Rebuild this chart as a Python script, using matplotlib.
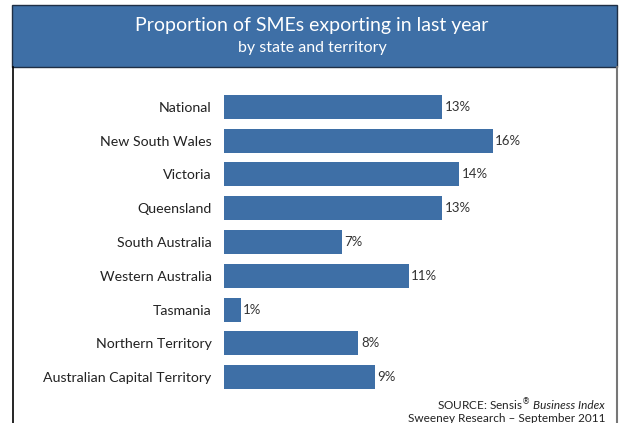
import matplotlib
matplotlib.use("Agg")
import matplotlib.pyplot as plt
from matplotlib.patches import Rectangle
from matplotlib.lines import Line2D

categories = ["National", "New South Wales", "Victoria", "Queensland",
              "South Australia", "Western Australia", "Tasmania",
              "Northern Territory", "Australian Capital Territory"]
values = [13, 16, 14, 13, 7, 11, 1, 8, 9]
value_labels = ["13%", "16%", "14%", "13%", "7%", "11%", "1%", "8%", "9%"]

title_line1 = "Proportion of SMEs exporting in last year"
title_line2 = "by state and territory"
source_line1 = "SOURCE: Sensis$^{\\circledR}$ "
source_italic = "Business Index"
source_line2 = "Sweeney Research \u2013 September 2011"

BLUE = "#3E6FA6"
FONT = "Lato"
plt.rcParams["font.family"] = [FONT, "DejaVu Sans"]

W, H = 619, 423
fig = plt.figure(figsize=(W / 100, H / 100), dpi=100)
fig.patch.set_facecolor("white")


def fx(px):
    return px / W


def fy(py):
    return 1 - py / H


# header band
fig.add_artist(Rectangle((fx(12), fy(67)), fx(617) - fx(12), fy(5) - fy(67),
                         transform=fig.transFigure, facecolor=BLUE,
                         edgecolor="#1f2f45", linewidth=1.0, zorder=1))
fig.text(fx(312), fy(26), title_line1, ha="center", va="center",
         color="white", fontsize=14, zorder=2)
fig.text(fx(312), fy(48), title_line2, ha="center", va="center",
         color="white", fontsize=11.5, zorder=2)

# frame sides
fig.add_artist(Line2D([fx(12.5), fx(12.5)], [fy(67), 0], transform=fig.transFigure,
                      color="black", linewidth=1.2))
fig.add_artist(Line2D([fx(617), fx(617)], [fy(67), 0], transform=fig.transFigure,
                      color="#777777", linewidth=1.5))

# bar chart
ax = fig.add_axes([fx(224), fy(394), fx(611) - fx(224), fy(90) - fy(394)])
ypos = list(range(len(categories)))
ax.barh(ypos, values, height=0.71, color=BLUE, zorder=2)
for y, v, lab in zip(ypos, values, value_labels):
    ax.text(v + 0.15, y, lab, va="center", ha="left", fontsize=9.5, color="#333333")
ax.set_xlim(0, (611 - 224) / 16.8)
ax.set_ylim(len(categories) - 0.5, -0.5)
ax.set_yticks(ypos)
ax.set_yticklabels(categories, fontsize=10.2, color="#222222")
ax.tick_params(axis="y", length=0, pad=9)
ax.set_xticks([])
for s in ax.spines.values():
    s.set_visible(False)
ax.patch.set_alpha(0)

# source note
t2 = fig.text(fx(605), fy(418), source_line2, ha="right", va="center",
              fontsize=8.5, color="#222222")
t_it = fig.text(fx(605), fy(405), source_italic, ha="right", va="center",
                fontsize=8.5, color="#222222", style="italic")
fig.canvas.draw()
bb = t_it.get_window_extent()
fig.text(bb.x0 / W - 0.002, fy(405), source_line1, ha="right", va="center",
         fontsize=8.5, color="#222222")

fig.savefig("out.png", dpi=100)
